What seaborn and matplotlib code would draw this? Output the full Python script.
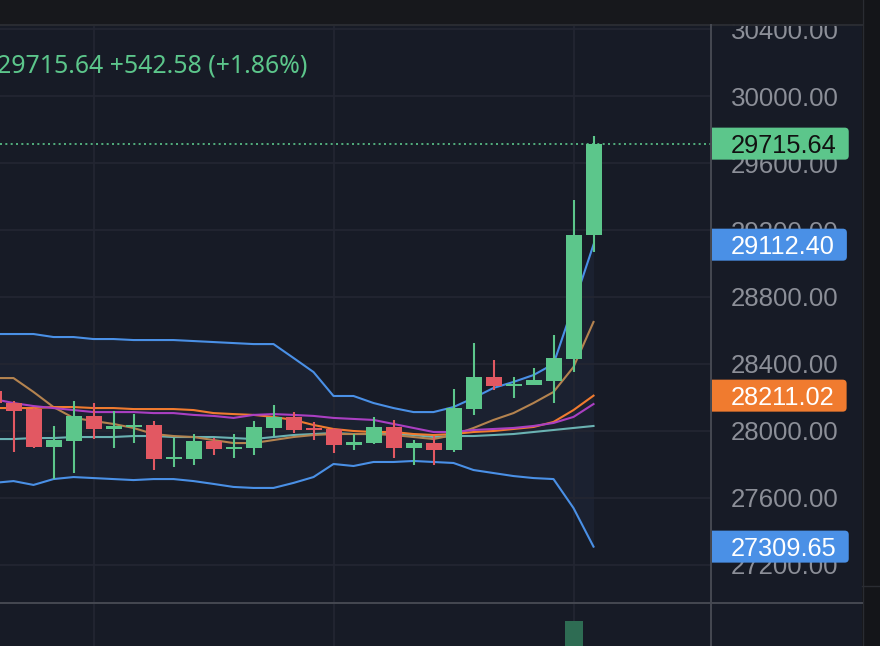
import numpy as np
import pandas as pd
import matplotlib
matplotlib.use("Agg")
import matplotlib.pyplot as plt
import seaborn as sns
from matplotlib.patches import FancyBboxPatch, Rectangle
from matplotlib.lines import Line2D
from matplotlib.transforms import IdentityTransform, Bbox

# ---------------- data ----------------
idx = list(range(-1, 30))
opens = [28239, 28167, 28131, 27904, 27940, 28090, 28012, 28024, 28036, 27833,
         27833, 27940, 27893, 27899, 28018, 28084, 28018, 28012, 27916, 27928,
         28024, 27899, 27928, 27887, 28131, 28322, 28269, 28275, 28299, 28430,
         29173.06]
highs = [28262, 28179, 28137, 28030, 28179, 28167, 28119, 28101, 28060, 27958,
         27982, 27958, 27982, 28060, 28155, 28113, 28054, 28018, 27982, 28084,
         28066, 27946, 27970, 28251, 28525, 28424, 28322, 28376, 28573, 29379,
         29761]
lows = [28150, 27875, 27898, 27713, 27749, 27952, 27899, 27928, 27767, 27785,
        27797, 27857, 27839, 27857, 27970, 27988, 27946, 27869, 27887, 27922,
        27839, 27797, 27797, 27875, 28096, 28245, 28197, 28275, 28167, 28352,
        29069]
closes = [28167, 28119, 27904, 27946, 28090, 28012, 28030, 28036, 27833, 27845,
          27940, 27893, 27905, 28024, 28084, 28006, 28006, 27916, 27934, 28024,
          27899, 27928, 27887, 28137, 28322, 28269, 28281, 28304, 28436, 29173.06,
          29715.64]
volumes = [820, 760, 1100, 900, 1050, 700, 650, 600, 950, 680,
           720, 560, 590, 800, 750, 640, 580, 870, 520, 760,
           810, 600, 780, 1500, 1200, 900, 850, 880, 1400, 3190,
           1900]
bb_upper = [28579, 28579, 28579, 28561, 28561, 28549, 28549, 28543, 28543, 28543,
            28537, 28531, 28525, 28519, 28519, 28436, 28352, 28209, 28209, 28167,
            28137, 28113, 28113, 28143, 28197, 28257, 28293, 28334, 28400, 28752,
            29112.40]
bb_lower = [27690, 27701, 27678, 27713, 27725, 27719, 27713, 27707, 27713, 27713,
            27701, 27684, 27666, 27660, 27660, 27690, 27725, 27803, 27791, 27815,
            27815, 27821, 27815, 27809, 27767, 27749, 27731, 27719, 27713, 27540,
            27309.65]
ma_fast = [28316, 28316, 28233, 28143, 28078, 28060, 28042, 28018, 27982, 27970,
           27964, 27946, 27928, 27928, 27946, 27964, 27976, 27982, 27982, 27982,
           27976, 27964, 27952, 27976, 28018, 28066, 28107, 28167, 28233, 28382,
           28651]
ma_orange = [28137, 28137, 28137, 28143, 28143, 28137, 28137, 28131, 28131, 28131,
             28125, 28107, 28101, 28096, 28084, 28066, 28036, 28012, 28000, 27994,
             27994, 27982, 27976, 27982, 27994, 28000, 28012, 28024, 28054, 28125,
             28211.02]
ma_purple = [28191, 28167, 28149, 28137, 28125, 28113, 28113, 28113, 28107, 28107,
             28096, 28090, 28078, 28096, 28101, 28096, 28090, 28078, 28072, 28066,
             28042, 28018, 27994, 27994, 28006, 28012, 28018, 28030, 28048, 28084,
             28161]
ma_slow = [27952, 27952, 27958, 27958, 27964, 27964, 27964, 27970, 27970, 27964,
           27964, 27964, 27958, 27952, 27964, 27976, 27982, 27988, 27982, 27982,
           27982, 27976, 27964, 27970, 27970, 27976, 27982, 27994, 28006, 28018,
           28030]
price_ticks = [27200, 27600, 28000, 28400, 28800, 29200, 29600, 30000, 30400]
vgrid_idx = [4, 16, 28]

# ---------------- style ----------------
W, H = 880, 646
BG = "#171b26"
FILL = "#1b2130"
GRID = "#232632"
UP = "#5cc68b"
DOWN = "#e25862"
BLUE = "#4a90e6"
ORANGE = "#f07b2f"
PURPLE = "#aa3fc2"
BROWN = "#b4834f"
TEAL = "#6ab2b2"
VOLC = "#2e6c53"
AXLINE = "#464952"
TXT = "#8c8f98"

plt.rcParams["font.family"] = ["Liberation Sans", "DejaVu Sans"]

fig = plt.figure(figsize=(W / 100, H / 100), dpi=100, facecolor=BG)


def frac(x0, y0, x1, y1):
    return [x0 / W, 1 - y1 / H, (x1 - x0) / W, (y1 - y0) / H]


ax = fig.add_axes(frac(0, 25, 711, 603))
axp = fig.add_axes(frac(711, 25, 862, 603), sharey=ax)
axv = fig.add_axes(frac(0, 604, 711, 646), sharex=ax)

for a in (ax, axp, axv):
    a.set_facecolor(BG)
    for s in a.spines.values():
        s.set_visible(False)

ax.set_xlim(-0.675, 34.875)
ax.set_ylim(26973.1, 30423.9)
ax.set_yticks(price_ticks)
ax.set_xticks(vgrid_idx)
ax.grid(True, color=GRID, lw=1.3)
ax.tick_params(length=0, labelleft=False, labelbottom=False)

# Bollinger fill
ax.fill_between(idx, bb_lower, bb_upper, color=FILL, lw=0, zorder=0.5)

# indicator lines via seaborn
series = {"upper": bb_upper, "lower": bb_lower, "slow": ma_slow,
          "fast": ma_fast, "orange": ma_orange, "purple": ma_purple}
palette = {"upper": BLUE, "lower": BLUE, "slow": TEAL, "fast": BROWN,
           "orange": ORANGE, "purple": PURPLE}
df = pd.concat([pd.DataFrame({"idx": idx, "value": v, "series": k})
                for k, v in series.items()], ignore_index=True)
sns.lineplot(data=df, x="idx", y="value", hue="series", palette=palette,
             sort=False, linewidth=1.5, legend=False, ax=ax, zorder=2)
ax.set_xlabel("")
ax.set_ylabel("")

# candles
o = np.array(opens); c = np.array(closes)
hi = np.array(highs); lo = np.array(lows)
cols = [UP if cc >= oo else DOWN for oo, cc in zip(o, c)]
ax.vlines(idx, lo, hi, colors=cols, lw=1.5, zorder=3)
body_h = np.maximum(np.abs(c - o), 10)
ax.bar(idx, body_h, bottom=np.minimum(o, c), width=0.8, color=cols, lw=0, zorder=4)

# last price dotted line
ax.axhline(closes[-1], color=UP, lw=1.2, ls=(0, (1.2, 2)), zorder=5)

# volume
axv.set_ylim(2000, 4000)
axv.set_xticks(vgrid_idx)
axv.set_yticks([])
axv.grid(True, axis="x", color=GRID, lw=1.3)
axv.tick_params(length=0, labelbottom=False, labelleft=False)
axv.bar(idx, volumes, width=0.9, color=VOLC, lw=0, zorder=2)
axv.set_xlim(-0.675, 34.875)

# price scale
axp.set_xticks([])
axp.yaxis.set_ticks_position("right")
axp.set_yticks(price_ticks)
axp.set_yticklabels([f"{t:.2f}" for t in price_ticks])
axp.tick_params(axis="y", length=0, pad=-131 * 0.72, labelsize=18.6,
                labelcolor=TXT, labelleft=False, labelright=True)

ID = IdentityTransform()


def rect(x0, y0, x1, y1, color, z):
    fig.add_artist(Rectangle((x0, H - y1), x1 - x0, y1 - y0, transform=ID,
                             facecolor=color, lw=0, zorder=z))


def line(x0, y0, x1, y1, color, lw, z):
    fig.add_artist(Line2D([x0, x1], [H - y0, H - y1], transform=ID,
                          color=color, lw=lw, zorder=z))


# frame pieces
rect(0, 0, 880, 24, "#17181c", 10)
rect(862, 0, 880, 646, "#141519", 10)
line(0, 24.5, 862, 24.5, "#2a2c32", 1.4, 11)
line(862.5, 0, 862.5, 646, "#2a2c32", 1.0, 11)
line(862, 586, 880, 586, "#2a2c32", 1.0, 11)
line(711, 25, 711, 646, AXLINE, 1.4, 11)
line(0, 603, 862, 603, AXLINE, 1.4, 11)

# price labels
renderer = fig.canvas.get_renderer()
labels = [(closes[-1], UP, "#111111"), (bb_upper[-1], BLUE, "white"),
          (ma_orange[-1], ORANGE, "white"), (bb_lower[-1], BLUE, "white")]
clip = Bbox([[711.5, 0], [862, H]])
for v, bc, tc in labels:
    yd = ax.transData.transform((0, v))[1]
    t = fig.text(731, yd, f"{v:.2f}", transform=ID, ha="left",
                 va="center_baseline", fontsize=18.3, color=tc, zorder=13)
    bb = t.get_window_extent(renderer)
    box = FancyBboxPatch((704, yd - 16), bb.x1 + 12 - 704, 32,
                         boxstyle="round,pad=0,rounding_size=4", transform=ID,
                         facecolor=bc, edgecolor="none", zorder=12)
    box.set_clip_box(clip)
    fig.add_artist(box)

# header
chg = closes[-1] - closes[-2]
pct = chg / closes[-2] * 100
fig.text(-3, H - 63, f"{closes[-1]:.2f} +{chg:.2f} (+{pct:.2f}%)", transform=ID,
         ha="left", va="center_baseline", fontsize=17.9, color=UP,
         family=["Noto Sans", "DejaVu Sans"], zorder=14)

fig.savefig("out.png", dpi=100, facecolor=BG)
